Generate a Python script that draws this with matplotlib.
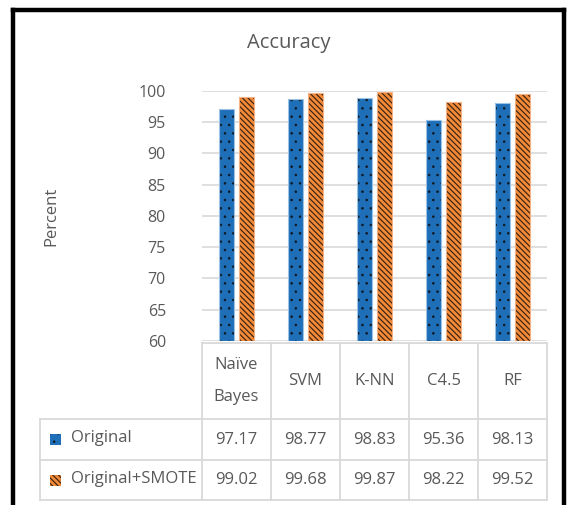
import matplotlib
matplotlib.use("Agg")
import matplotlib.pyplot as plt
import matplotlib.transforms as mtransforms
from matplotlib.lines import Line2D
from matplotlib.patches import Rectangle

# Data
categories = ["Naïve\n\nBayes", "SVM", "K-NN", "C4.5", "RF"]
series_names = ["Original", "Original+SMOTE"]
original = [97.17, 98.77, 98.83, 95.36, 98.13]
smote = [99.02, 99.68, 99.87, 98.22, 99.52]
yticks = [60, 65, 70, 75, 80, 85, 90, 95, 100]

W, H = 567, 505
TXT = "#595959"
GRID = "#d9d9d9"
BLUE = "#1f6fb8"
ORANGE = "#f28a38"
DOT_HATCH = ".."
STRIPE_HATCH = "\\" * 6
DOT_LW = 0.6
STRIPE_LW = 0.85
plt.rcParams["font.family"] = ["Open Sans", "DejaVu Sans"]

fig = plt.figure(figsize=(W / 100, H / 100), dpi=100)


def fx(px):
    return px / W


def fy(py):
    return 1 - py / H


ax = fig.add_axes([fx(202), fy(341), fx(547) - fx(202), fy(91) - fy(341)])
ax.set_xlim(-0.5, len(categories) - 0.5)
ax.set_ylim(60, 100)

x = list(range(len(categories)))
bw = 0.21
off = 0.145
xb = [i - off for i in x]
xo = [i + off for i in x]

# Filled bars with hatching (hatch colour follows the edge colour)
with plt.rc_context({"hatch.linewidth": DOT_LW}):
    ax.bar(xb, [v - 60 for v in original], bottom=60, width=bw, color=BLUE,
           edgecolor="#101820", linewidth=0, hatch=DOT_HATCH, zorder=3)
with plt.rc_context({"hatch.linewidth": STRIPE_LW}):
    ax.bar(xo, [v - 60 for v in smote], bottom=60, width=bw, color=ORANGE,
           edgecolor="#3a2212", linewidth=0, hatch=STRIPE_HATCH, zorder=3)
# light outlines
ax.bar(xb, [v - 60 for v in original], bottom=60, width=bw, fill=False,
       edgecolor="#9cc3e6", linewidth=0.8, zorder=4)
ax.bar(xo, [v - 60 for v in smote], bottom=60, width=bw, fill=False,
       edgecolor="#f4b183", linewidth=0.8, zorder=4)

ax.set_yticks(yticks)
ax.set_yticklabels([str(t) for t in yticks])
ax.tick_params(axis="y", length=0, pad=26, labelsize=11.5, labelcolor=TXT)
ax.set_xticks([])
for s in ax.spines.values():
    s.set_visible(False)
ax.yaxis.grid(True, color=GRID, linewidth=1.2, zorder=0)
ax.set_axisbelow(True)

# Title and axis label
fig.text(fx(289), fy(43), "Accuracy", ha="center", va="center",
         fontsize=14.5, color=TXT)
fig.text(fx(51), fy(216), "Percent", ha="center", va="center",
         rotation=90, fontsize=12, color=TXT)

# Data table below the bars
tr = mtransforms.blended_transform_factory(ax.transData, fig.transFigure)
bounds = [i - 0.5 for i in range(len(categories) + 1)]
y_top, y_r1, y_r2, y_bot = 343, 419, 460, 500
left_px = 40


def hline(py, x0_fig):
    fig.add_artist(Line2D([x0_fig, fx(547)], [fy(py), fy(py)],
                          color=GRID, linewidth=1.3))


hline(y_top, fx(202))
for py in (y_r1, y_r2, y_bot):
    hline(py, fx(left_px))
for b in bounds:
    ax.add_line(Line2D([b, b], [fy(y_top), fy(y_bot)], transform=tr,
                       color=GRID, linewidth=1.3, clip_on=False))
fig.add_artist(Line2D([fx(left_px), fx(left_px)], [fy(y_r1), fy(y_bot)],
                      color=GRID, linewidth=1.3))

for i, c in enumerate(categories):
    ax.text(i, fy((y_top + y_r1) / 2), c, transform=tr, ha="center",
            va="center", fontsize=12, color=TXT, linespacing=1.0)
    ax.text(i, fy((y_r1 + y_r2) / 2), f"{original[i]:.2f}", transform=tr,
            ha="center", va="center", fontsize=12, color=TXT)
    ax.text(i, fy((y_r2 + y_bot) / 2), f"{smote[i]:.2f}", transform=tr,
            ha="center", va="center", fontsize=12, color=TXT)

# Legend keys inside the table
keys = [(series_names[0], BLUE, DOT_HATCH, "#101820", DOT_LW),
        (series_names[1], ORANGE, STRIPE_HATCH, "#3a2212", STRIPE_LW)]
for row, (name, col, hatch, ec, hlw) in enumerate(keys):
    ymid = (y_r1 + y_r2) / 2 if row == 0 else (y_r2 + y_bot) / 2
    with plt.rc_context({"hatch.linewidth": hlw}):
        fig.add_artist(Rectangle((fx(50), fy(ymid + 5.5)), fx(11), 11 / H,
                                 facecolor=col, edgecolor=ec, linewidth=0,
                                 hatch=hatch))
    fig.text(fx(71), fy(ymid - 1), name, ha="left", va="center",
             fontsize=12, color=TXT)

# Frame around the figure
for xs, ys in [([fx(13), fx(13)], [0, fy(10)]),
               ([fx(13), fx(564)], [fy(10), fy(10)]),
               ([fx(564), fx(564)], [fy(10), 0])]:
    fig.add_artist(Line2D(xs, ys, color="black", linewidth=3.2))

fig.savefig("out.png", dpi=100)
